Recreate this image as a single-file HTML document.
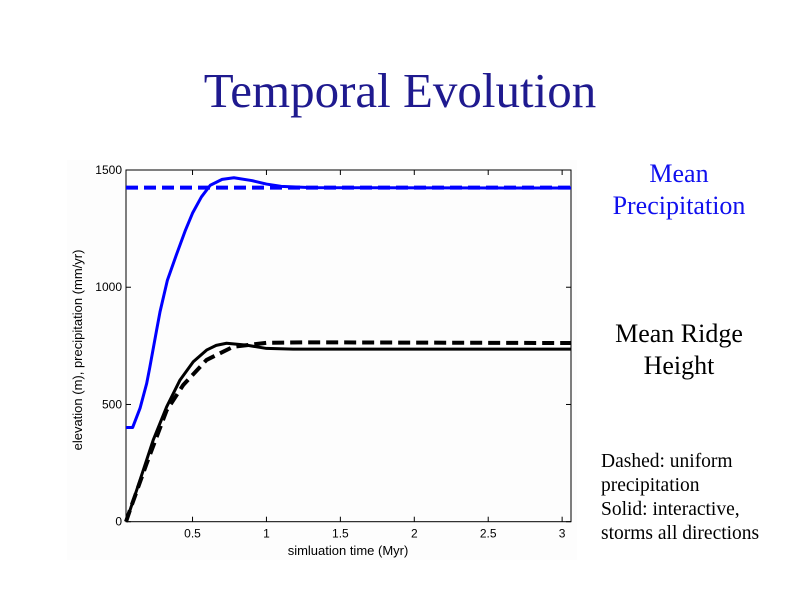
<!DOCTYPE html>
<html><head><meta charset="utf-8"><style>
body{margin:0;width:800px;height:600px;background:#fff;position:relative;overflow:hidden;font-family:"Liberation Serif",serif}
.t{position:absolute;white-space:nowrap}
</style></head><body>
<div class="t" style="left:0;width:800px;text-align:center;top:62px;font-size:49px;color:#1f1a8f">Temporal Evolution</div>
<div class="t" style="left:579px;width:200px;text-align:center;top:158px;font-size:26px;line-height:32px;color:#1010ee">Mean<br>Precipitation</div>
<div class="t" style="left:579px;width:200px;text-align:center;top:318px;font-size:26px;line-height:32px;color:#000">Mean Ridge<br>Height</div>
<div class="t" style="left:601px;top:450px;font-size:19.5px;line-height:24px;color:#000">Dashed: uniform<br>precipitation<br>Solid: interactive,<br>storms all directions</div>
<svg id="c" width="800" height="600" style="position:absolute;left:0;top:0"></svg>
<script>
const xTicks=[0.5,1,1.5,2,2.5,3];
const yTicks=[0,500,1000,1500];
const precipSolidX=[0.05,0.095,0.145,0.19,0.21,0.257,0.28,0.33,0.39,0.45,0.5,0.56,0.62,0.7,0.78,0.9,1.0,1.1,1.3,3.06];
const precipSolidY=[402,402,484,590,655,817,895,1030,1137,1240,1316,1385,1435,1460,1467,1455,1440,1430,1425,1423];
const precipDashY=1425;
const ridgeSolidX=[0.05,0.055,0.145,0.234,0.325,0.415,0.505,0.595,0.66,0.73,0.865,1.0,1.18,3.06];
const ridgeSolidY=[0,7,178,348,490,604,682,732,752,761,753,739,736,736];
const ridgeDashX=[0.05,0.077,0.19,0.325,0.437,0.595,0.775,1.0,1.3,3.06];
const ridgeDashY=[0,50,249,475,583,690,746,763,765,762];
const X0=126,X1=571,Y0=521.7,Y1=170,xmin=0.05,xmax=3.06;
const sx=v=>X0+(v-xmin)/(xmax-xmin)*(X1-X0);
const sy=v=>Y0-v/1500*(Y0-Y1);
const svg=document.getElementById('c');const NS='http://www.w3.org/2000/svg';
function mk(t,a,p){const e=document.createElementNS(NS,t);for(const k in a)e.setAttribute(k,a[k]);(p||svg).appendChild(e);return e;}
const bg=mk('rect',{x:67,y:160,width:510,height:400,fill:'#fdfdfd'});


const fr=mk('rect',{x:X0,y:Y1,width:X1-X0,height:Y0-Y1,fill:'none',stroke:'#000','stroke-width':1});


xTicks.forEach(v=>{const x=sx(v);
mk('line',{x1:x,x2:x,y1:Y0,y2:Y0-5,stroke:'#000'});mk('line',{x1:x,x2:x,y1:Y1,y2:Y1+5,stroke:'#000'});
const t=mk('text',{x:x,y:Y0+16,'text-anchor':'middle','font-size':12,'font-family':'Liberation Sans, sans-serif'});t.textContent=v;

});
yTicks.forEach(v=>{const y=sy(v);
mk('line',{x1:X0,x2:X0+5,y1:y,y2:y,stroke:'#000'});mk('line',{x1:X1,x2:X1-5,y1:y,y2:y,stroke:'#000'});
const t=mk('text',{x:X0-4,y:y+4,'text-anchor':'end','font-size':12,'font-family':'Liberation Sans, sans-serif'});t.textContent=v;

});
const xl=mk('text',{x:348,y:555,'text-anchor':'middle','font-size':13,'font-family':'Liberation Sans, sans-serif'});xl.textContent='simluation time (Myr)';


const yl=mk('text',{x:0,y:0,'text-anchor':'middle','font-size':13,'font-family':'Liberation Sans, sans-serif',transform:'translate(82,350) rotate(-90)'});yl.textContent='elevation (m),  precipitation (mm/yr)';


function path(xs,ys,col,dash,name){const d=xs.map((x,i)=>(i?'L':'M')+sx(x)+' '+sy(ys[i])).join('');
const p=mk('path',{d:d,fill:'none',stroke:col,'stroke-width':dash?4:3,'stroke-dasharray':dash?'12 6':'none','stroke-linejoin':'round'});

}
path([xmin,xmax],[precipDashY,precipDashY],'#0000ff',true,'precip-uniform-line');
path(precipSolidX,precipSolidY,'#0000ff',false,'precip-interactive-line');
path(ridgeDashX,ridgeDashY,'#000',true,'ridge-uniform-line');
path(ridgeSolidX,ridgeSolidY,'#000',false,'ridge-interactive-line');
</script>
</body></html>
